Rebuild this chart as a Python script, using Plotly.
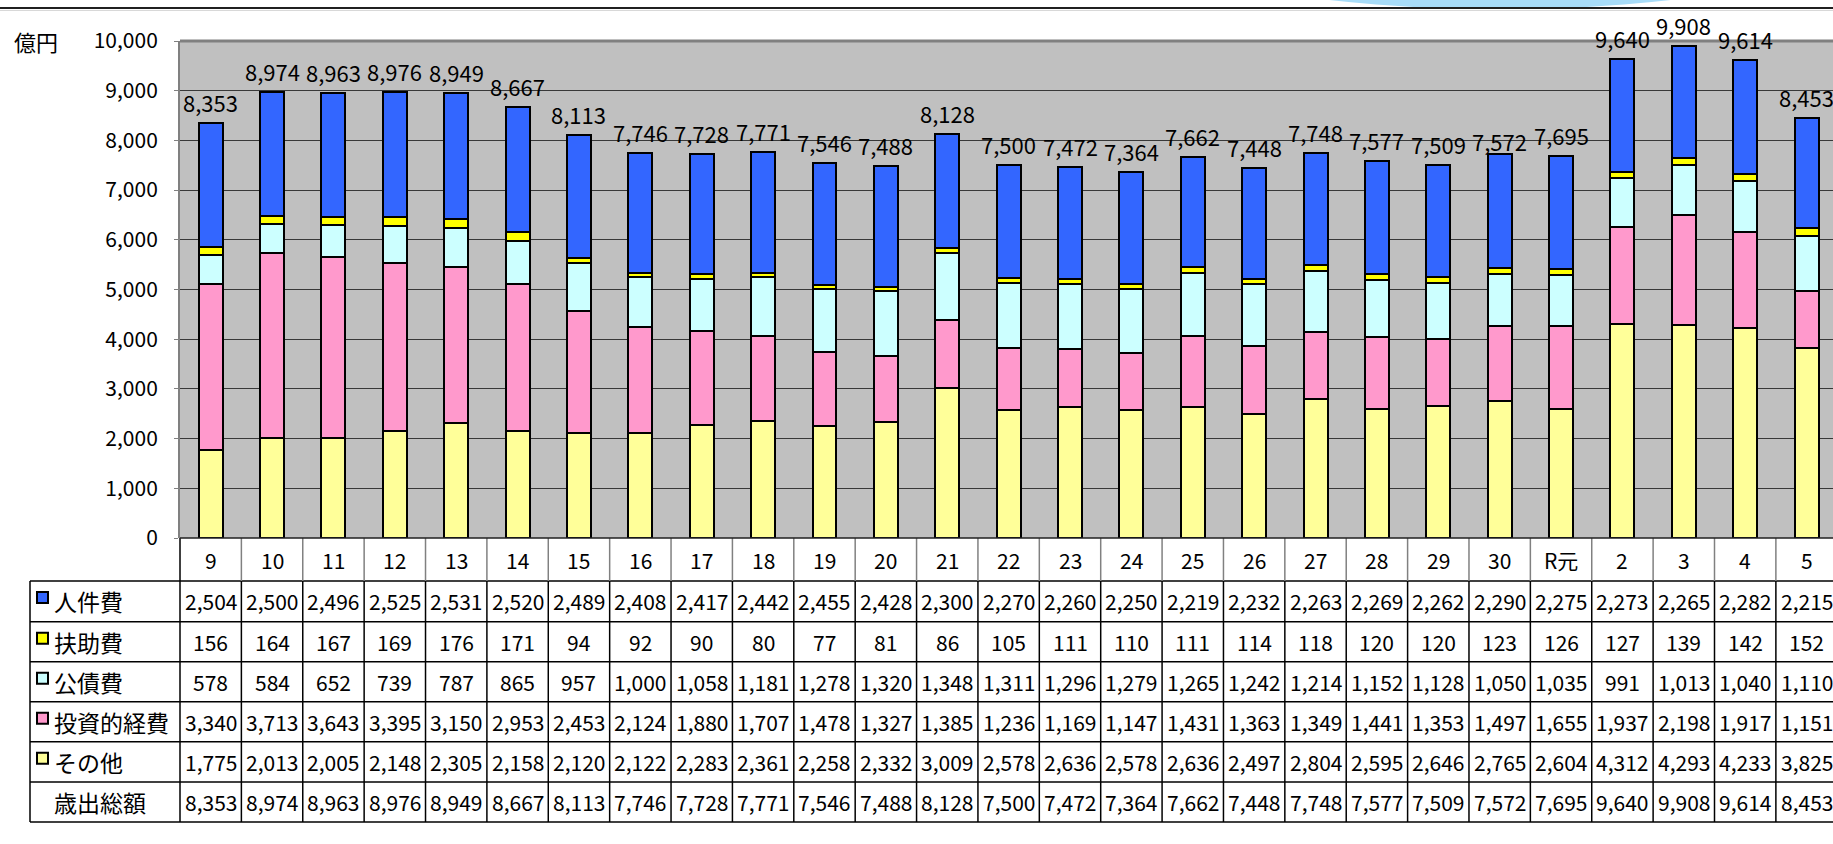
import plotly.graph_objects as go

years = ["9", "10", "11", "12", "13", "14", "15", "16", "17", "18", "19", "20", "21", "22",
         "23", "24", "25", "26", "27", "28", "29", "30", "R元", "2", "3", "4", "5"]
personnel = [2504, 2500, 2496, 2525, 2531, 2520, 2489, 2408, 2417, 2442, 2455, 2428, 2300, 2270,
             2260, 2250, 2219, 2232, 2263, 2269, 2262, 2290, 2275, 2273, 2265, 2282, 2215]
welfare = [156, 164, 167, 169, 176, 171, 94, 92, 90, 80, 77, 81, 86, 105,
           111, 110, 111, 114, 118, 120, 120, 123, 126, 127, 139, 142, 152]
debt = [578, 584, 652, 739, 787, 865, 957, 1000, 1058, 1181, 1278, 1320, 1348, 1311,
        1296, 1279, 1265, 1242, 1214, 1152, 1128, 1050, 1035, 991, 1013, 1040, 1110]
invest = [3340, 3713, 3643, 3395, 3150, 2953, 2453, 2124, 1880, 1707, 1478, 1327, 1385, 1236,
          1169, 1147, 1431, 1363, 1349, 1441, 1353, 1497, 1655, 1937, 2198, 1917, 1151]
other = [1775, 2013, 2005, 2148, 2305, 2158, 2120, 2122, 2283, 2361, 2258, 2332, 3009, 2578,
         2636, 2578, 2636, 2497, 2804, 2595, 2646, 2765, 2604, 4312, 4293, 4233, 3825]
total = [8353, 8974, 8963, 8976, 8949, 8667, 8113, 7746, 7728, 7771, 7546, 7488, 8128, 7500,
         7472, 7364, 7662, 7448, 7748, 7577, 7509, 7572, 7695, 9640, 9908, 9614, 8453]

series_names = ["人件費", "扶助費", "公債費", "投資的経費", "その他"]
series_values = [personnel, welfare, debt, invest, other]
series_colors = ["#3366FF", "#FFFF00", "#CCFFFF", "#FF99CC", "#FFFF99"]
total_name = "歳出総額"
unit_label = "億円"

W, H = 1833, 844
FONT = "Noto Sans CJK JP"


def px(x):
    return x / W


def py(y):
    return 1 - y / H


PLOT_L, PLOT_T, PLOT_B = 180, 41, 538
COL_W = 61.38
n = len(years)
xs = list(range(n))

fig = go.Figure()
# stack from bottom: その他, 投資的経費, 公債費, 扶助費, 人件費
for name, vals, col in reversed(list(zip(series_names, series_values, series_colors))):
    fig.add_trace(go.Bar(
        x=xs, y=vals, name=name, width=0.39,
        marker=dict(color=col, line=dict(color="black", width=2)),
        hoverinfo="skip"))

annotations = []
shapes = []

# total labels above bars
for i, t in enumerate(total):
    annotations.append(dict(x=i, y=t, xref="x", yref="y", text=f"{t:,}", showarrow=False,
                            yanchor="middle", yshift=21,
                            font=dict(family=FONT, size=22, color="black")))

# unit label
annotations.append(dict(x=px(12), y=py(41), xref="paper", yref="paper", text=unit_label,
                        showarrow=False, xanchor="left", yanchor="middle",
                        font=dict(family=FONT, size=22, color="black")))

# table geometry
header_top, header_bot = PLOT_B, 581
row_edges = [581, 621.7, 661.7, 701.7, 741.7, 782, 822]
TABLE_L = 30

# header labels
for i, yr in enumerate(years):
    annotations.append(dict(x=i, y=py((header_top + header_bot) / 2), xref="x", yref="paper",
                            text=yr, showarrow=False, yanchor="middle",
                            font=dict(family=FONT, size=21, color="black")))

row_labels = series_names + [total_name]
row_values = series_values + [total]
for r, (lab, vals) in enumerate(zip(row_labels, row_values)):
    yc = (row_edges[r] + row_edges[r + 1]) / 2
    annotations.append(dict(x=px(52), y=py(yc), xref="paper", yref="paper", text=lab,
                            showarrow=False, xanchor="left", yanchor="middle",
                            font=dict(family=FONT, size=23, color="black")))
    for i, v in enumerate(vals):
        annotations.append(dict(x=i, y=py(yc), xref="x", yref="paper", text=f"{v:,}",
                                showarrow=False, yanchor="middle",
                                font=dict(family=FONT, size=21, color="black")))
    if r < len(series_colors):
        top = row_edges[r] + 11
        shapes.append(dict(type="rect", xref="paper", yref="paper",
                           x0=px(37), x1=px(48), y0=py(top + 11), y1=py(top),
                           fillcolor=series_colors[r], line=dict(color="black", width=2)))

# horizontal table lines
for y in row_edges:
    shapes.append(dict(type="line", xref="paper", yref="paper", x0=px(TABLE_L), x1=1.0,
                       y0=py(y), y1=py(y), line=dict(color="black", width=1.5)))
# vertical table lines
shapes.append(dict(type="line", xref="paper", yref="paper", x0=px(TABLE_L), x1=px(TABLE_L),
                   y0=py(row_edges[0]), y1=py(row_edges[-1]), line=dict(color="black", width=1.5)))
shapes.append(dict(type="line", xref="paper", yref="paper", x0=px(PLOT_L), x1=px(PLOT_L),
                   y0=py(header_top), y1=py(row_edges[-1]), line=dict(color="black", width=1.5)))
for i in range(n):
    xb = i + 0.5
    shapes.append(dict(type="line", xref="x", yref="paper", x0=xb, x1=xb,
                       y0=py(header_top), y1=py(header_bot), line=dict(color="#808080", width=1.5)))
    shapes.append(dict(type="line", xref="x", yref="paper", x0=xb, x1=xb,
                       y0=py(header_bot), y1=py(row_edges[-1]), line=dict(color="black", width=1.5)))

# plot bottom line
shapes.append(dict(type="line", xref="paper", yref="paper", x0=px(PLOT_L), x1=1.0,
                   y0=py(PLOT_B), y1=py(PLOT_B), line=dict(color="#202020", width=1.5)))
# plot top border
shapes.append(dict(type="line", xref="paper", yref="paper", x0=px(PLOT_L), x1=1.0,
                   y0=py(PLOT_T), y1=py(PLOT_T), line=dict(color="#808080", width=3)))

# top decoration
shapes.append(dict(type="circle", xref="paper", yref="paper", x0=px(1176), x1=px(1824),
                   y0=py(9), y1=py(-111), fillcolor="#A8DCF8", line=dict(width=0), layer="below"))
shapes.append(dict(type="line", xref="paper", yref="paper", x0=0, x1=1, y0=py(8), y1=py(8),
                   line=dict(color="#202020", width=2)))
shapes.append(dict(type="line", xref="paper", yref="paper", x0=0, x1=1, y0=py(10.5), y1=py(10.5),
                   line=dict(color="#D8D8D8", width=1)))

x_end = -0.5 + (W - PLOT_L) / COL_W
fig.update_layout(
    template="none",
    width=W, height=H, autosize=False,
    margin=dict(l=0, r=0, t=0, b=0, pad=0, autoexpand=False),
    paper_bgcolor="white", plot_bgcolor="#C0C0C0",
    barmode="stack", showlegend=False,
    font=dict(family=FONT, color="black"),
    xaxis=dict(domain=[px(PLOT_L), 1.0], range=[-0.5, x_end], showgrid=False,
               showticklabels=False, zeroline=False, ticks="", fixedrange=True,
               automargin=False, showline=False),
    yaxis=dict(domain=[py(PLOT_B), py(PLOT_T)], range=[0, 10000], dtick=1000,
               tickformat=",", showgrid=True, gridcolor="#383838", gridwidth=1,
               zeroline=False, showline=True, linecolor="#808080", linewidth=2,
               ticks="outside", ticklen=4, tickcolor="#808080",
               ticklabelstandoff=12, automargin=False,
               tickfont=dict(family=FONT, size=21, color="black"), fixedrange=True),
    annotations=annotations, shapes=shapes,
)

fig.write_html("out.html")
